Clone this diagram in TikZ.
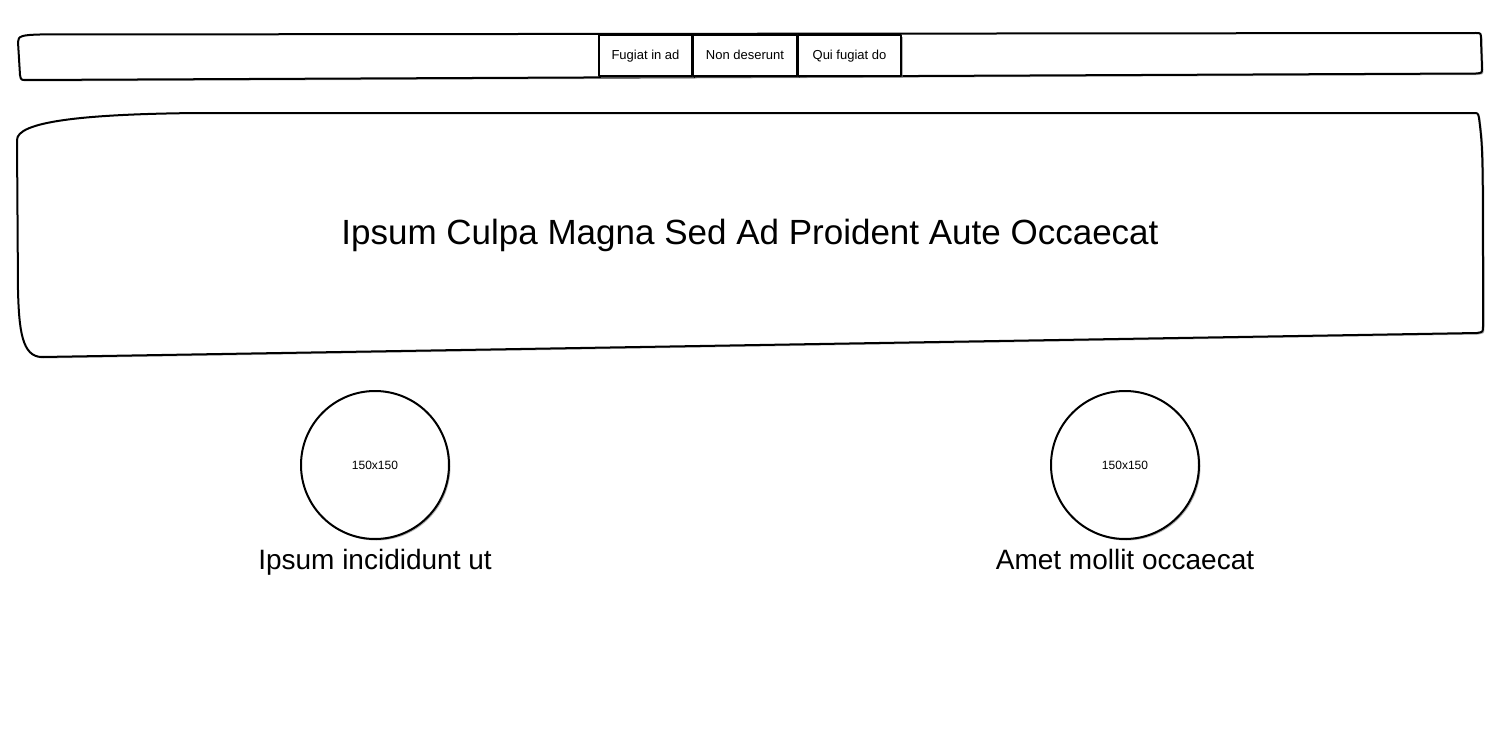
\documentclass[tikz,border=0pt]{standalone}
\usepackage{fontspec}
\setmainfont{Liberation Sans}
\usetikzlibrary{shadows}

\begin{document}
\begin{tikzpicture}[x=1pt,y=1pt,
    sketch/.style={draw=black,line width=2pt,fill=white,line join=round,
      drop shadow={shadow xshift=1.5pt,shadow yshift=-1.5pt,opacity=0.6}},
    tab/.style={sketch,rectangle,minimum height=41pt,inner sep=0pt,text height=9.5pt,text depth=2.5pt,
      font=\fontsize{13}{15}\selectfont},
    pic/.style={sketch,circle,minimum size=148pt,inner sep=0pt,text height=8.5pt,text depth=0pt,
      font=\fontsize{12}{14}\selectfont},
    caption/.style={anchor=base,font=\fontsize{28}{32}\selectfont}]
        \useasboundingbox (0,0) rectangle (1500,-752);
        % top bar
        \path[sketch] (18,-42) .. controls (18,-36) and (22,-35) .. (40,-34.5) -- (1476,-33)
          .. controls (1481,-33) .. (1481,-40) -- (1482,-68) .. controls (1482,-73) .. (1476,-73.5)
          -- (26,-80) .. controls (21,-80) .. (20,-75) -- cycle;
        \node[tab,minimum width=93pt] (fugiat) at (645.5,-56) {Fugiat in ad};
        \node[tab,minimum width=104pt] (nondes) at (745,-56) {Non deserunt};
        \node[tab,minimum width=103pt] (quifug) at (849.5,-56) {Qui fugiat do};
        % banner
        \path[sketch] (17,-140) .. controls (17,-122) and (80,-114) .. (200,-113) -- (1473,-113)
          .. controls (1478,-113) .. (1479,-118) .. controls (1483,-150) .. (1483,-326)
          .. controls (1483,-332) .. (1477,-333) -- (42,-357) .. controls (22,-357) and (19,-330) .. (18,-290) -- cycle;
        \node[anchor=base,font=\fontsize{35}{40}\selectfont] (title) at (750,-244) {Ipsum Culpa Magna Sed Ad Proident Aute Occaecat};
        % pictures
        \node[pic] (picleft) at (375,-465) {150x150};
        \node[pic] (picright) at (1125,-465) {150x150};
        \node[caption] (capleft) at (375,-569) {Ipsum incididunt ut};
        \node[caption] (capright) at (1125,-569) {Amet mollit occaecat};
      \end{tikzpicture}
\end{document}
